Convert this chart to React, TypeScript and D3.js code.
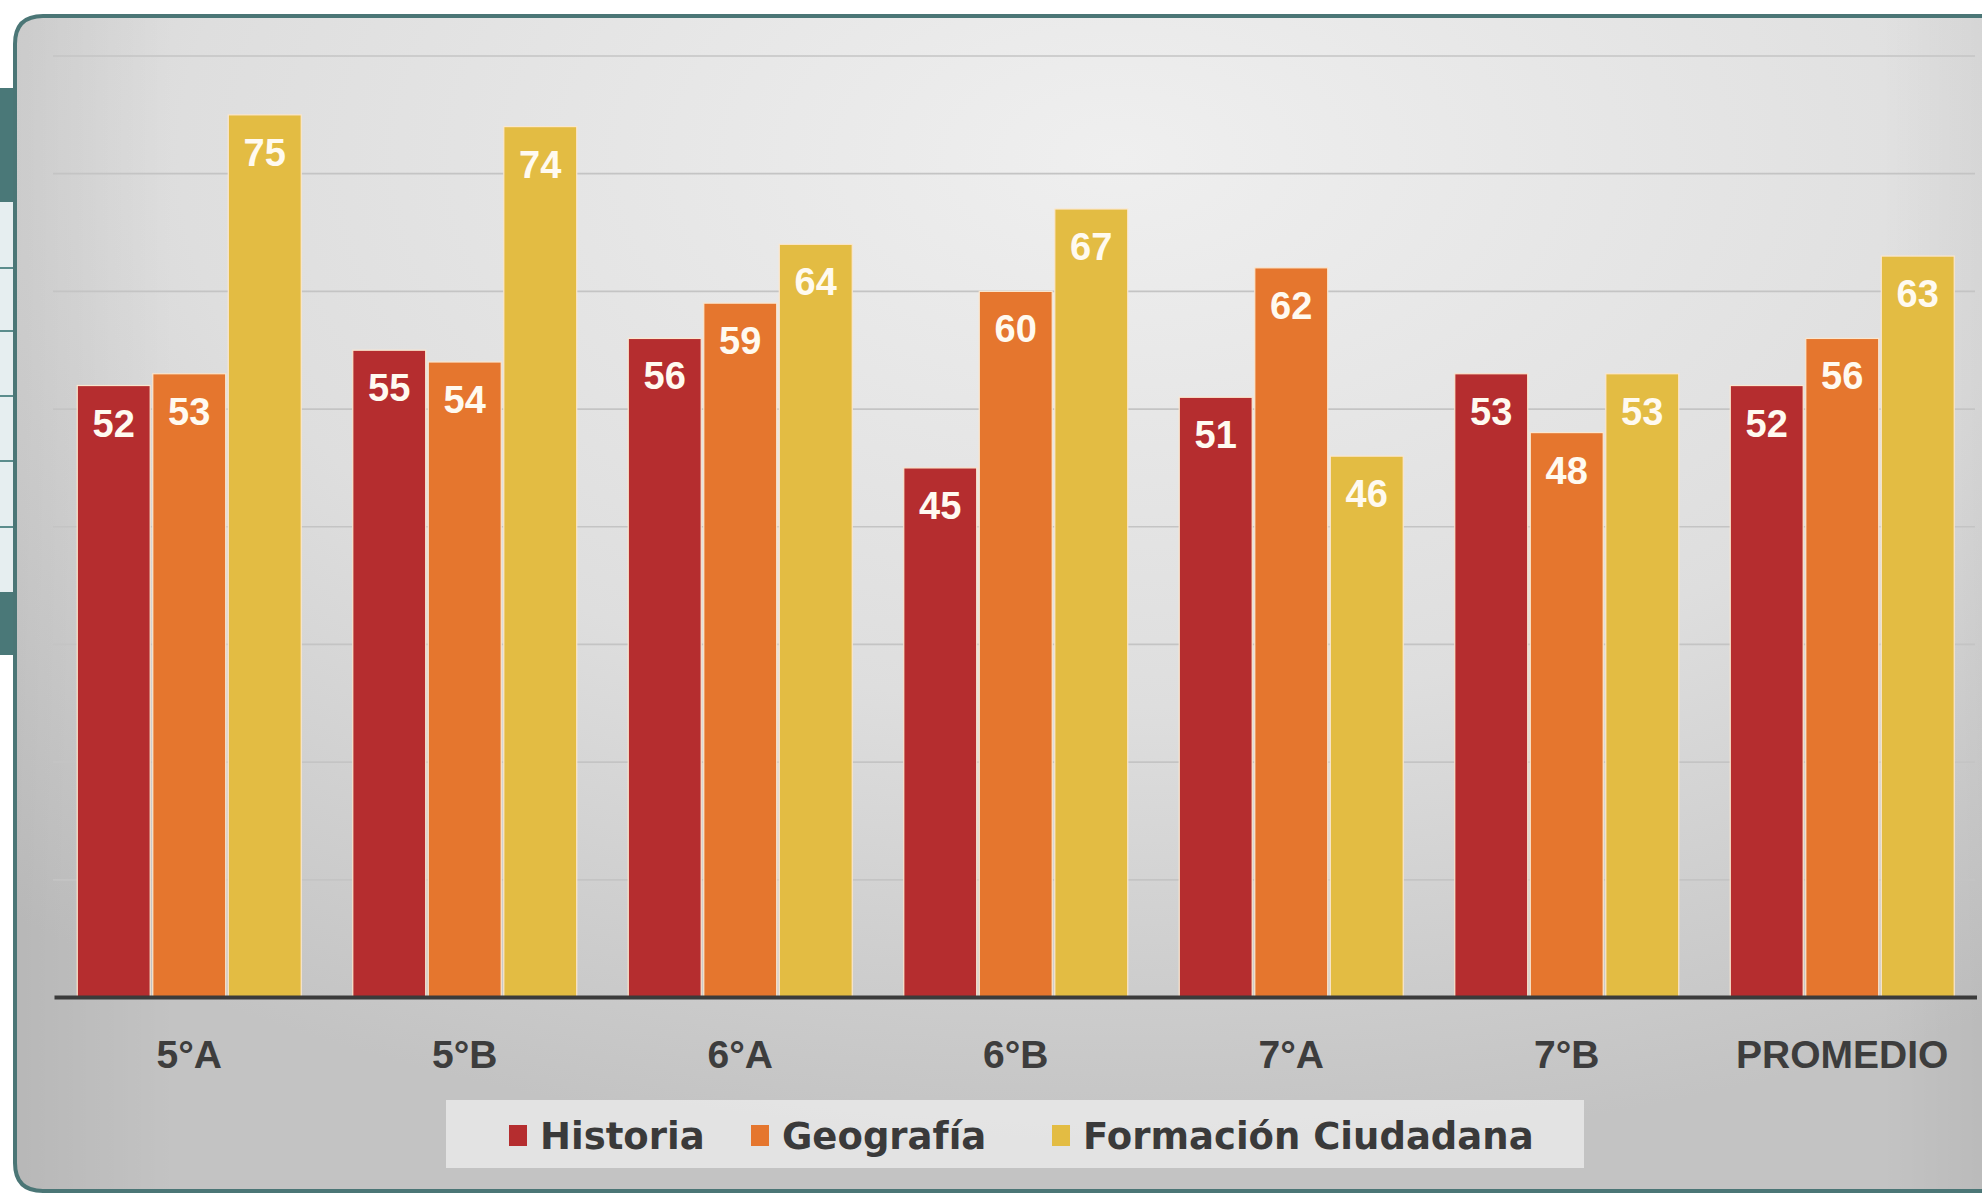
import React from "react";
import * as d3 from "d3";

const categories = ["5°A", "5°B", "6°A", "6°B", "7°A", "7°B", "PROMEDIO"];
const seriesNames = ["Historia", "Geografía", "Formación Ciudadana"];
const historia = [52, 55, 56, 45, 51, 53, 52];
const geografia = [53, 54, 59, 60, 62, 48, 56];
const formacion = [75, 74, 64, 67, 46, 53, 63];
const seriesValues = [historia, geografia, formacion];
const seriesColors = ["#b52d2f", "#e5762e", "#e3bc43"];
const gridTicks = [10, 20, 30, 40, 50, 60, 70, 80];

const W = 1982;
const H = 1194;

export default function App() {
  const x0 = d3
    .scaleBand<string>()
    .domain(categories)
    .range([54.5, 1977])
    .paddingInner(0.187)
    .paddingOuter(0.0826);
  const x1 = d3
    .scaleBand<string>()
    .domain(seriesNames)
    .range([0, x0.bandwidth()])
    .paddingInner(0.034);
  const y = d3.scaleLinear().domain([0, 80]).range([997.5, 56]);

  const legendX = [509, 751, 1052];
  const stripLines = [268, 331, 396, 461, 527];

  // panel outline: rounded on the left, running off the right edge
  const r = 28;
  const px = 15;
  const py = 16;
  const pb = 1191;
  const panelPath = `M ${W + 40} ${py} L ${px + r} ${py} Q ${px} ${py} ${px} ${py + r} L ${px} ${pb - r} Q ${px} ${pb} ${px + r} ${pb} L ${W + 40} ${pb}`;

  return (
    <svg
      width={W}
      height={H}
      style={{ position: "absolute", left: 0, top: 0, display: "block", overflow: "hidden" }}
      xmlns="http://www.w3.org/2000/svg"
    >
      <defs>
        <radialGradient id="bg" cx="0.55" cy="0.12" r="0.85">
          <stop offset="0" stopColor="#efefef" />
          <stop offset="0.55" stopColor="#dedede" />
          <stop offset="1" stopColor="#c3c3c3" />
        </radialGradient>
        <linearGradient id="edgeL" x1="0" x2="1" y1="0" y2="0">
          <stop offset="0" stopColor="#000" stopOpacity="0.06" />
          <stop offset="0.08" stopColor="#000" stopOpacity="0" />
          <stop offset="0.93" stopColor="#000" stopOpacity="0" />
          <stop offset="1" stopColor="#000" stopOpacity="0.06" />
        </linearGradient>
      </defs>
      <rect x={0} y={0} width={W} height={H} fill="#ffffff" />
      {/* left strip of underlying slide */}
      <rect x={0} y={202} width={14} height={390} fill="#e6eef0" />
      <rect x={0} y={88} width={14} height={114} fill="#4a7878" />
      <rect x={0} y={592} width={14} height={63} fill="#4a7878" />
      {stripLines.map((ly) => (
        <line key={ly} x1={0} x2={14} y1={ly} y2={ly} stroke="#5b8c8c" strokeWidth={2} />
      ))}
      {/* panel */}
      <path d={panelPath + " Z"} fill="url(#bg)" stroke="none" />
      <path d={panelPath + " Z"} fill="url(#edgeL)" stroke="none" />
      <path d={panelPath} fill="none" stroke="#4b7676" strokeWidth={4} />
      {/* gridlines */}
      {gridTicks.map((t) => (
        <line
          key={t}
          x1={53}
          x2={1975}
          y1={y(t)}
          y2={y(t)}
          stroke="#c4c4c4"
          strokeWidth={1.7}
        />
      ))}
      {/* bars */}
      {categories.map((c, i) => (
        <g key={c} transform={`translate(${x0(c)},0)`}>
          {seriesNames.map((s, j) => {
            const v = seriesValues[j][i];
            const bx = x1(s) as number;
            return (
              <g key={s}>
                <rect
                  x={bx}
                  y={y(v)}
                  width={x1.bandwidth()}
                  height={y(0) - y(v)}
                  fill={seriesColors[j]}
                  stroke="#fbe7cf"
                  strokeWidth={1.2}
                />
                <text
                  x={bx + x1.bandwidth() / 2}
                  y={y(v) + 51}
                  textAnchor="middle"
                  fontFamily="'Liberation Sans', Arial, sans-serif"
                  fontWeight="bold"
                  fontSize={38}
                  fill="#fffaf0"
                >
                  {v}
                </text>
              </g>
            );
          })}
        </g>
      ))}
      {/* baseline */}
      <line x1={54.5} x2={1977} y1={y(0)} y2={y(0)} stroke="#3b3b3b" strokeWidth={4} />
      {/* category labels */}
      {categories.map((c) => (
        <text
          key={c}
          x={(x0(c) as number) + x0.bandwidth() / 2}
          y={1068}
          textAnchor="middle"
          fontFamily="'Liberation Sans', Arial, sans-serif"
          fontWeight="bold"
          fontSize={39}
          fill="#3d3d3d"
        >
          {c}
        </text>
      ))}
      {/* legend */}
      <rect x={446} y={1100} width={1138} height={68} fill="#e7e7e7" opacity={0.9} />
      {seriesNames.map((s, j) => (
        <g key={s}>
          <rect x={legendX[j]} y={1125} width={18} height={21} fill={seriesColors[j]} />
          <text
            x={legendX[j] + 31}
            y={1149}
            fontFamily="'DejaVu Sans', sans-serif"
            fontWeight="bold"
            fontSize={37}
            fill="#3a3a3a"
          >
            {s}
          </text>
        </g>
      ))}
    </svg>
  );
}
